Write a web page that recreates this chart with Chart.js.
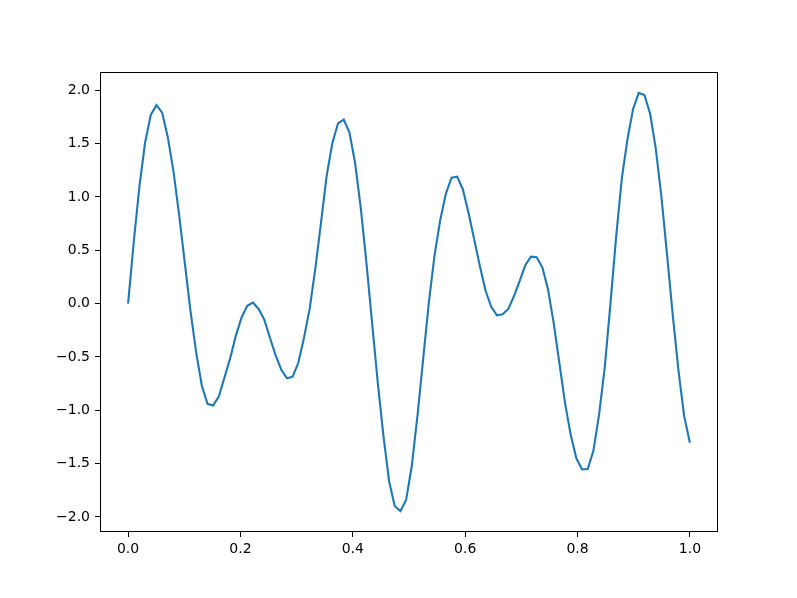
<!DOCTYPE html>
<html>
<head>
<meta charset="utf-8">
<script src="https://cdn.jsdelivr.net/npm/chart.js@4.4.1/dist/chart.umd.min.js"></script>
<style>
  html, body { margin: 0; padding: 0; background: #fff; }
  canvas { display: block; }
</style>
</head>
<body>
<canvas id="c" width="797" height="598"></canvas>
<script>
// sample positions (100 evenly spaced points from 0 to 1)
var xs = [
  0.0000, 0.0101, 0.0202, 0.0303, 0.0404, 0.0505, 0.0606, 0.0707, 0.0808, 0.0909,
  0.1010, 0.1111, 0.1212, 0.1313, 0.1414, 0.1515, 0.1616, 0.1717, 0.1818, 0.1919,
  0.2020, 0.2121, 0.2222, 0.2323, 0.2424, 0.2525, 0.2626, 0.2727, 0.2828, 0.2929,
  0.3030, 0.3131, 0.3232, 0.3333, 0.3434, 0.3535, 0.3636, 0.3737, 0.3838, 0.3939,
  0.4040, 0.4141, 0.4242, 0.4343, 0.4444, 0.4545, 0.4646, 0.4747, 0.4848, 0.4949,
  0.5050, 0.5151, 0.5252, 0.5353, 0.5454, 0.5555, 0.5656, 0.5757, 0.5858, 0.5959,
  0.6060, 0.6161, 0.6262, 0.6363, 0.6464, 0.6565, 0.6666, 0.6767, 0.6868, 0.6969,
  0.7070, 0.7171, 0.7272, 0.7373, 0.7474, 0.7575, 0.7676, 0.7777, 0.7878, 0.7979,
  0.8080, 0.8181, 0.8282, 0.8383, 0.8484, 0.8585, 0.8686, 0.8787, 0.8888, 0.8989,
  0.9090, 0.9191, 0.9292, 0.9393, 0.9494, 0.9595, 0.9696, 0.9797, 0.9898, 1.0000
];

// values
var ys = [
   0.00,  0.58,  1.10,  1.51,  1.77,  1.86,  1.79,  1.56,  1.24,  0.83,
   0.38, -0.07, -0.46, -0.77, -0.94, -0.955, -0.87, -0.69, -0.51, -0.30,
  -0.13, -0.02,  0.01, -0.05, -0.15, -0.32, -0.485, -0.62, -0.70, -0.685,
  -0.555, -0.32, -0.05,  0.33,  0.76,  1.20,  1.505, 1.69,  1.725, 1.605,
   1.32,  0.90,  0.385, -0.18, -0.74, -1.24, -1.665, -1.90, -1.945, -1.84,
  -1.52, -1.05, -0.52,  0.01,  0.45,  0.78,  1.03,  1.18,  1.19,  1.07,
   0.85,  0.60,  0.35,  0.12, -0.03, -0.11, -0.10, -0.05,  0.07,  0.21,
   0.36,  0.44,  0.435, 0.34,  0.135, -0.18, -0.555, -0.93, -1.23, -1.45,
  -1.555, -1.55, -1.38, -1.04, -0.60, -0.005, 0.62,  1.17,  1.54,  1.825,
   1.975, 1.955, 1.78,  1.45,  0.995, 0.45, -0.115, -0.63, -1.055, -1.305
];

var xTicks = [0.0, 0.2, 0.4, 0.6, 0.8, 1.0];
var yTicks = [-2.0, -1.5, -1.0, -0.5, 0.0, 0.5, 1.0, 1.5, 2.0];

var points = xs.map(function(x, i) {
  return {x: x, y: ys[i]};
});

function fmt(v) {
  return Number(v).toFixed(1).replace('-', '\u2212');
}

// box around the plot area (matplotlib spines)
var frame = {
  id: 'frame',
  afterDatasetsDraw: function(chart) {
    var a = chart.chartArea;
    var ctx = chart.ctx;
    ctx.save();
    ctx.strokeStyle = '#000';
    ctx.lineWidth = 1;
    ctx.strokeRect(a.left + 0.5, a.top + 0.5, a.right - a.left - 1, a.bottom - a.top - 1);
    ctx.restore();
  }
};

var tickFont = {family: 'DejaVu Sans', size: 14};

var myChart = new Chart(document.getElementById('c'), {
  type: 'line',
  data: {
    datasets: [{
      data: points,
      borderColor: '#1f77b4',
      borderWidth: 2.1,
      pointRadius: 0,
      tension: 0,
      fill: false
    }]
  },
  options: {
    responsive: false,
    animation: false,
    layout: {padding: {left: 0, right: 79, top: 72, bottom: 0}},
    plugins: {
      legend: {display: false},
      tooltip: {enabled: false}
    },
    scales: {
      x: {
        type: 'linear',
        min: -0.05,
        max: 1.05,
        afterBuildTicks: function(s) {
          s.ticks = xTicks.map(function(v) { return {value: v}; });
        },
        afterFit: function(s) { s.height = 66; },
        border: {display: false},
        grid: {drawOnChartArea: false, drawTicks: true, tickLength: 5, color: '#000', lineWidth: 1},
        ticks: {
          color: '#000',
          font: tickFont,
          padding: 4,
          maxRotation: 0,
          autoSkip: false,
          callback: function(v) { return fmt(v); }
        }
      },
      y: {
        min: -2.141,
        max: 2.171,
        afterBuildTicks: function(s) {
          s.ticks = yTicks.map(function(v) { return {value: v}; });
        },
        afterFit: function(s) { s.width = 100; },
        border: {display: false},
        grid: {drawOnChartArea: false, drawTicks: true, tickLength: 5, color: '#000', lineWidth: 1},
        ticks: {
          color: '#000',
          font: tickFont,
          padding: 5,
          autoSkip: false,
          callback: function(v) { return fmt(v); }
        }
      }
    }
  },
  plugins: [frame]
});
</script>
</body>
</html>
